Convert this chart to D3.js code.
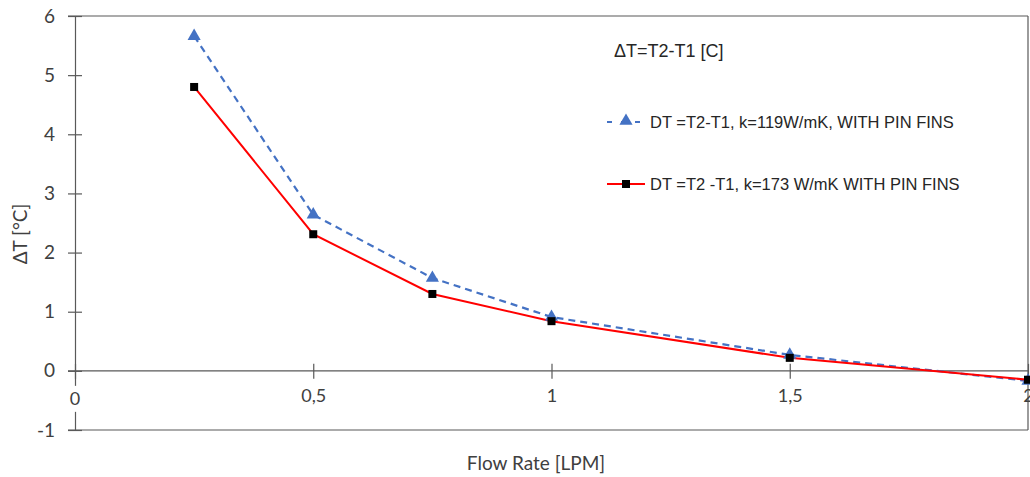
<!DOCTYPE html>
<html>
<head>
<meta charset="utf-8">
<script src="https://cdn.jsdelivr.net/npm/d3@7"></script>
<style>
  body { margin: 0; background: #fff; }
  svg { display: block; }
</style>
</head>
<body>
<div id="chart"></div>
<script>
// data
const flowRates = [0.25, 0.5, 0.75, 1, 1.5, 2];
const dtK119 = [5.66, 2.64, 1.57, 0.91, 0.27, -0.17];
const dtK173 = [4.80, 2.31, 1.30, 0.84, 0.22, -0.15];
const xTicks = [0, 0.5, 1, 1.5, 2];
const yTicks = [-1, 0, 1, 2, 3, 4, 5, 6];
const seriesNames = ["DT =T2-T1, k=119W/mK, WITH PIN FINS", "DT =T2 -T1, k=173 W/mK WITH PIN FINS"];

const width = 1030, height = 477;
const axisFont = "Lato, 'Open Sans', sans-serif";
const legendFont = "'Liberation Sans', Arial, sans-serif";
const axisColor = "#595959";
const textColor = "#404040";

const svg = d3.select("#chart").append("svg")
  .attr("width", width)
  .attr("height", height);

const x = d3.scaleLinear().domain([0, 2]).range([75, 1028]);
const y = d3.scaleLinear().domain([-1, 6]).range([430, 16]);

// frame: top, bottom, right
svg.append("line").attr("x1", 68).attr("x2", x(2)).attr("y1", y(6)).attr("y2", y(6))
  .attr("stroke", axisColor).attr("stroke-width", 1.2);
svg.append("line").attr("x1", 68).attr("x2", x(2)).attr("y1", y(-1)).attr("y2", y(-1))
  .attr("stroke", axisColor).attr("stroke-width", 1.2);
svg.append("line").attr("x1", x(2)).attr("x2", x(2)).attr("y1", y(6)).attr("y2", y(-1))
  .attr("stroke", axisColor).attr("stroke-width", 1.2);

// y axis at x=0
const yAxis = svg.append("g")
  .attr("transform", `translate(${x(0)},0)`)
  .call(d3.axisLeft(y).tickValues(yTicks).tickSize(7).tickFormat(d => d));
yAxis.select(".domain").attr("stroke", axisColor).attr("stroke-width", 1.2);
yAxis.selectAll(".tick line").attr("stroke", axisColor).attr("x2", 7).attr("x1", -7).attr("stroke-width", 1.2);
yAxis.selectAll(".tick text")
  .attr("x", -20)
  .attr("font-family", axisFont)
  .attr("font-size", 19)
  .attr("fill", textColor);

// x axis at y=0
const xAxis = svg.append("g")
  .attr("transform", `translate(0,${y(0)})`)
  .call(d3.axisBottom(x).tickValues(xTicks).tickSize(7)
    .tickFormat(d => String(d).replace(".", ",")));
xAxis.select(".domain").remove();
svg.insert("line", "g")
  .attr("x1", 68).attr("x2", x(2)).attr("y1", y(0)).attr("y2", y(0))
  .attr("stroke", axisColor).attr("stroke-width", 1.2);
xAxis.selectAll(".tick line").attr("stroke", axisColor).attr("y1", -7).attr("y2", 8).attr("stroke-width", 1.2);
xAxis.selectAll(".tick text")
  .attr("y", 18)
  .attr("font-family", axisFont)
  .attr("font-size", 18)
  .attr("fill", textColor);

// white gap behind the "0" label on the y axis
svg.append("rect")
  .attr("x", x(0) - 7).attr("y", y(0) + 15).attr("width", 14).attr("height", 26)
  .attr("fill", "#fff");
svg.append("text")
  .attr("x", x(0)).attr("y", y(0) + 34)
  .attr("text-anchor", "middle")
  .attr("font-family", axisFont).attr("font-size", 18).attr("fill", textColor)
  .text("0");
xAxis.selectAll(".tick").filter(d => d === 0).select("text").remove();

// axis titles
svg.append("text")
  .attr("transform", `translate(27,${(y(6) + y(-1)) / 2 + 11}) rotate(-90)`)
  .attr("text-anchor", "middle")
  .attr("font-family", axisFont).attr("font-size", 19).attr("fill", textColor)
  .text("ΔT [°C]");
svg.append("text")
  .attr("x", 536).attr("y", 470)
  .attr("text-anchor", "middle")
  .attr("font-family", axisFont).attr("font-size", 19).attr("fill", textColor)
  .text("Flow Rate [LPM]");

// series
const line = d3.line().x(d => x(d[0])).y(d => y(d[1]));
const s119 = flowRates.map((f, i) => [f, dtK119[i]]);
const s173 = flowRates.map((f, i) => [f, dtK173[i]]);

svg.append("path").datum(s119)
  .attr("d", line).attr("fill", "none")
  .attr("stroke", "#4472C4").attr("stroke-width", 2.2)
  .attr("stroke-dasharray", "7,5");
svg.append("path").datum(s173)
  .attr("d", line).attr("fill", "none")
  .attr("stroke", "#FF0000").attr("stroke-width", 2);

const tri = d3.symbol().type(d3.symbolTriangle).size(75);
svg.selectAll(".tri").data(s119).enter().append("path")
  .attr("class", "tri")
  .attr("d", tri)
  .attr("transform", d => `translate(${x(d[0])},${y(d[1])})`)
  .attr("fill", "#4472C4");
svg.selectAll(".sq").data(s173).enter().append("rect")
  .attr("class", "sq")
  .attr("x", d => x(d[0]) - 4).attr("y", d => y(d[1]) - 4)
  .attr("width", 8).attr("height", 8)
  .attr("fill", "#000");

// legend
svg.append("text")
  .attr("x", 614).attr("y", 57)
  .attr("font-family", legendFont).attr("font-size", 18).attr("fill", "#262626")
  .text("ΔT=T2-T1 [C]");

const leg = svg.append("g").attr("font-family", legendFont).attr("font-size", 16.5).attr("fill", "#262626");
// entry 1
leg.append("line").attr("x1", 607).attr("x2", 645).attr("y1", 122).attr("y2", 122)
  .attr("stroke", "#4472C4").attr("stroke-width", 2.2).attr("stroke-dasharray", "5,9");
leg.append("path").attr("d", tri).attr("transform", "translate(626,121)").attr("fill", "#4472C4");
leg.append("text").attr("x", 650).attr("y", 128).text(seriesNames[0]);
// entry 2
leg.append("line").attr("x1", 607).attr("x2", 645).attr("y1", 184).attr("y2", 184)
  .attr("stroke", "#FF0000").attr("stroke-width", 2);
leg.append("rect").attr("x", 622).attr("y", 180).attr("width", 8).attr("height", 8).attr("fill", "#000");
leg.append("text").attr("x", 650).attr("y", 190).text(seriesNames[1]);
</script>
</body>
</html>
